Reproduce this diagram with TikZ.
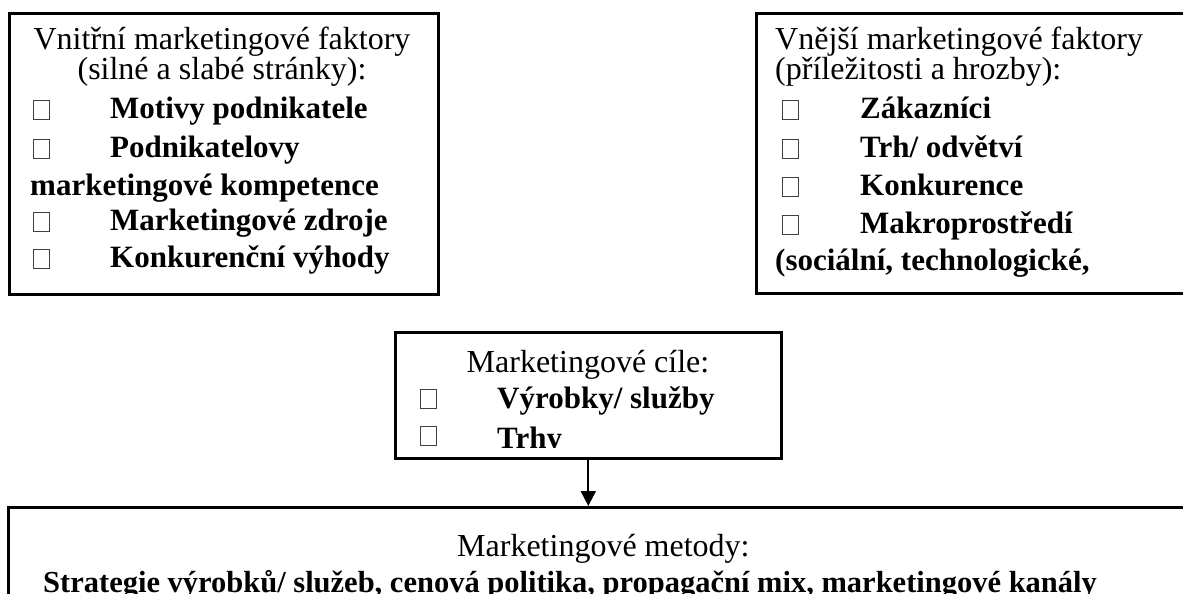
\documentclass[tikz,border=0pt]{standalone}
\usepackage{fontspec}
\setmainfont{Liberation Serif}
\usetikzlibrary{arrows.meta}
\tikzset{
  frame/.style={draw=black, line width=2.6pt, fill=none, inner sep=0pt, anchor=north west},
  txt/.style={anchor=base west, inner sep=0pt, font=\fontsize{32}{38}\selectfont},
  ctxt/.style={anchor=base, inner sep=0pt, font=\fontsize{32}{38}\selectfont},
  btxt/.style={anchor=base west, inner sep=0pt, font=\fontsize{31}{37}\selectfont\bfseries},
  tofu/.style={draw=black!75, line width=0.7pt, minimum width=16pt, minimum height=19pt, inner sep=0pt, anchor=south west},
  flow/.style={line width=2pt, -{Triangle[width=15pt,length=15pt]}}
}
\begin{document}
\begin{tikzpicture}[x=1pt,y=-1pt]
\useasboundingbox (0,0) rectangle (1183,594);
% boxes
\node[frame, minimum width=429pt, minimum height=281pt] (inner) at (8,12) {};
\node[frame, minimum width=460pt, minimum height=280pt] (outer) at (755,12) {};
\node[frame, minimum width=386pt, minimum height=126pt] (goals) at (394,331) {};
\node[frame, minimum width=1200pt, minimum height=120pt] (methods) at (7,506) {};
% left box text
\node[ctxt] (l1) at (222,50) {Vnitřní marketingové faktory};
\node[ctxt] (l2) at (222,80) {(silné a slabé stránky):};
\node[tofu] (lb1) at (33,120) {};
\node[btxt] (l3) at (110,118) {Motivy podnikatele};
\node[tofu] (lb2) at (33,159) {};
\node[btxt] (l4) at (110,157) {Podnikatelovy};
\node[btxt] (l5) at (30,195) {marketingové kompetence};
\node[tofu] (lb3) at (33,232) {};
\node[btxt] (l6) at (110,230) {Marketingové zdroje};
\node[tofu] (lb4) at (33,269) {};
\node[btxt] (l7) at (110,267) {Konkurenční výhody};
% right box text
\node[txt] (r1) at (775,50) {Vnější marketingové faktory};
\node[txt] (r2) at (775,80) {(příležitosti a hrozby):};
\node[tofu] (rb1) at (782,120) {};
\node[btxt] (r3) at (860,118) {Zákazníci};
\node[tofu] (rb2) at (782,159) {};
\node[btxt] (r4) at (860,157) {Trh/ odvětví};
\node[tofu] (rb3) at (782,197) {};
\node[btxt] (r5) at (860,195) {Konkurence};
\node[tofu] (rb4) at (782,235) {};
\node[btxt] (r6) at (860,233) {Makroprostředí};
\node[btxt] (r7) at (775,270) {(sociální, technologické,};
% middle box text
\node[ctxt] (g1) at (588,372) {Marketingové cíle:};
\node[tofu] (gb1) at (420,409) {};
\node[btxt] (g2) at (497,408) {Výrobky/ služby};
\begin{scope}
\clip (396,333) rectangle (778,447);
\node[tofu] (gb2) at (420,446) {};
\node[btxt] (g3) at (497,448) {Trhy};
\end{scope}
% bottom box text
\node[txt] (m1) at (457,556) {Marketingové metody:};
\node[btxt, font=\fontsize{30.5}{36}\selectfont\bfseries] (m2) at (43,592) {Strategie výrobků/ služeb, cenová politika, propagační mix, marketingové kanály};
% connector
\draw[flow] (goals.south) -- (goals.south |- methods.north);
\end{tikzpicture}
\end{document}
